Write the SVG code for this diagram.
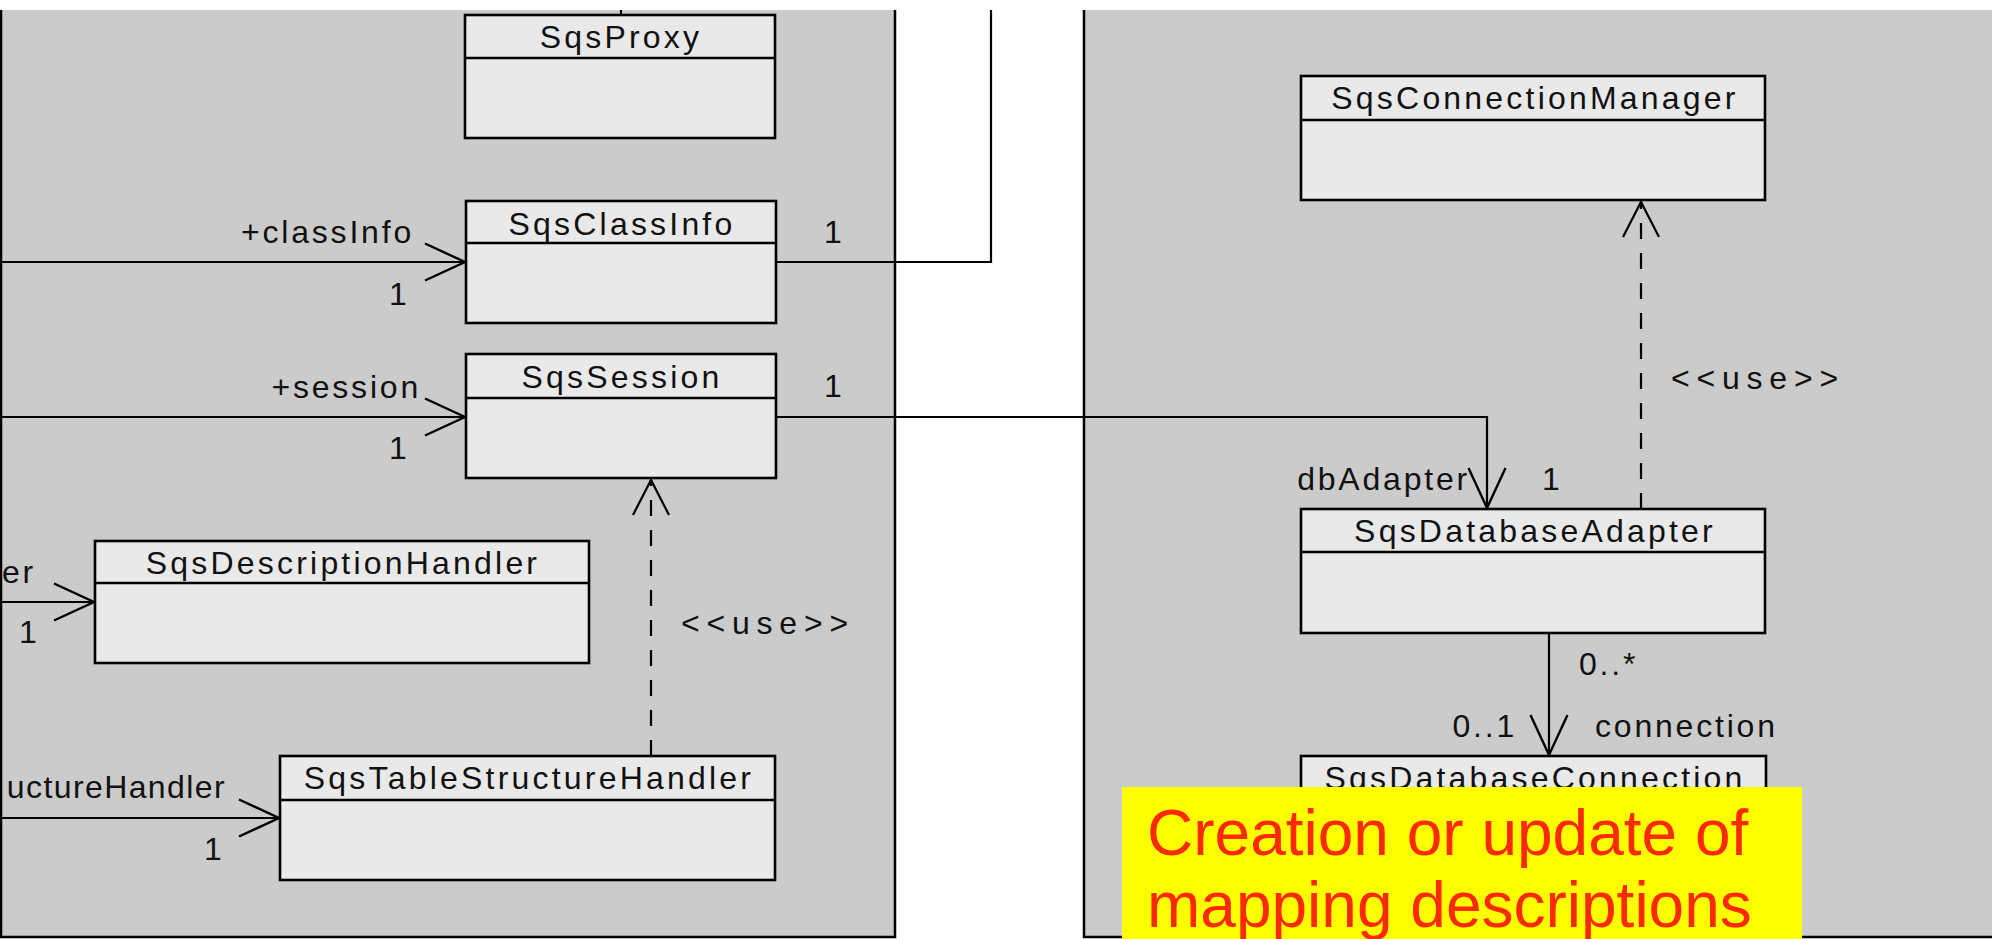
<svg xmlns="http://www.w3.org/2000/svg" width="1992" height="939" viewBox="0 0 1992 939">
  <style>
    .panel { fill: #cbcbcb; }
    .edge { stroke: #000; stroke-width: 2.5; fill: none; }
    .box { fill: #e9e9e9; stroke: #000; stroke-width: 2.6; }
    .sep { stroke: #000; stroke-width: 2.6; }
    .name { font-family: "Liberation Sans", Arial, sans-serif; font-size: 32px; letter-spacing: 3.2px; fill: #111; text-anchor: middle; }
    .lbl { font-family: "Liberation Sans", Arial, sans-serif; font-size: 32px; letter-spacing: 2.8px; fill: #111; }
    .tight { letter-spacing: 1.4px; }
    .stereo { font-family: "Liberation Sans", Arial, sans-serif; font-size: 32px; letter-spacing: 6.8px; fill: #111; }
    .assoc { stroke: #000; stroke-width: 2.2; fill: none; }
    .dep { stroke: #000; stroke-width: 2.2; fill: none; stroke-dasharray: 16 14; }
    .note { fill: #ffff00; }
    .notetext { font-family: "Liberation Sans", Arial, sans-serif; font-size: 64px; fill: #ff2a00; }
  </style>
  <defs>
    <marker id="open" markerUnits="userSpaceOnUse" viewBox="-45 -25 50 50" markerWidth="50" markerHeight="50" refX="0" refY="0" orient="auto" overflow="visible">
      <path d="M-40,-18.5 L0,0 L-40,18.5" fill="none" stroke="#000" stroke-width="2.4" stroke-dasharray="none"/>
    </marker>
    <marker id="depArrow" markerUnits="userSpaceOnUse" viewBox="-40 -25 45 50" markerWidth="45" markerHeight="50" refX="0" refY="0" orient="auto" overflow="visible">
      <path d="M-35,-18 L0,0 L-35,18" fill="none" stroke="#000" stroke-width="2.2" stroke-dasharray="none"/>
    </marker>
  </defs>

  <rect width="1992" height="939" fill="#ffffff"/>

  <!-- package panels -->
  <g id="panel-left">
    <rect class="panel" x="1" y="10" width="894" height="927"/>
    <path class="edge" d="M1,10 V937 H895 V10"/>
  </g>
  <g id="panel-right">
    <rect class="panel" x="1084" y="10" width="908" height="927"/>
    <path class="edge" d="M1084,10 V937 H1992"/>
  </g>

  <!-- connectors -->
  <g id="connectors">
    <path class="assoc" d="M621,10 V15"/>
    <path class="assoc" d="M776,262 H991 V10"/>
    <path class="assoc" d="M776,417 H1487 V508" marker-end="url(#open)"/>
    <path class="assoc" d="M0,262 H465" marker-end="url(#open)"/>
    <path class="assoc" d="M0,417 H465" marker-end="url(#open)"/>
    <path class="assoc" d="M0,602 H94" marker-end="url(#open)"/>
    <path class="assoc" d="M0,818 H279" marker-end="url(#open)"/>
    <path class="assoc" d="M1549,633 V755" marker-end="url(#open)"/>
    <path class="dep" d="M651,756 V480" marker-end="url(#depArrow)"/>
    <path class="dep" d="M1641,509 V202" marker-end="url(#depArrow)"/>

    <text class="lbl" x="414" y="243" text-anchor="end">+classInfo</text>
    <text class="lbl" x="389" y="305">1</text>
    <text class="lbl" x="824" y="243">1</text>
    <text class="lbl" x="421" y="398" text-anchor="end">+session</text>
    <text class="lbl" x="389" y="459">1</text>
    <text class="lbl" x="824" y="397">1</text>
    <text class="lbl" x="36" y="583" text-anchor="end">er</text>
    <text class="lbl" x="19" y="643">1</text>
    <text class="lbl tight" x="226" y="798" text-anchor="end">uctureHandler</text>
    <text class="lbl" x="204" y="860">1</text>
    <text class="stereo" x="681" y="634">&lt;&lt;use&gt;&gt;</text>
    <text class="stereo" x="1671" y="389">&lt;&lt;use&gt;&gt;</text>
    <text class="lbl" x="1470" y="490" text-anchor="end">dbAdapter</text>
    <text class="lbl" x="1542" y="490">1</text>
    <text class="lbl" x="1579" y="675">0..*</text>
    <text class="lbl" x="1517" y="737" text-anchor="end">0..1</text>
    <text class="lbl" x="1595" y="737">connection</text>
  </g>

  <!-- classes -->
  <g id="SqsProxy">
    <rect class="box" x="465" y="15" width="310" height="123"/>
    <line class="sep" x1="465" y1="58" x2="775" y2="58"/>
    <text class="name" x="621" y="48">SqsProxy</text>
  </g>
  <g id="SqsClassInfo">
    <rect class="box" x="466" y="201" width="310" height="122"/>
    <line class="sep" x1="466" y1="243" x2="776" y2="243"/>
    <text class="name" x="622" y="235">SqsClassInfo</text>
  </g>
  <g id="SqsSession">
    <rect class="box" x="466" y="354" width="310" height="124"/>
    <line class="sep" x1="466" y1="398" x2="776" y2="398"/>
    <text class="name" x="622" y="388">SqsSession</text>
  </g>
  <g id="SqsDescriptionHandler">
    <rect class="box" x="95" y="541" width="494" height="122"/>
    <line class="sep" x1="95" y1="583" x2="589" y2="583"/>
    <text class="name" x="343" y="574">SqsDescriptionHandler</text>
  </g>
  <g id="SqsTableStructureHandler">
    <rect class="box" x="280" y="756" width="495" height="124"/>
    <line class="sep" x1="280" y1="800" x2="775" y2="800"/>
    <text class="name" x="529" y="789">SqsTableStructureHandler</text>
  </g>
  <g id="SqsConnectionManager">
    <rect class="box" x="1301" y="76" width="464" height="124"/>
    <line class="sep" x1="1301" y1="120" x2="1765" y2="120"/>
    <text class="name" x="1535" y="109">SqsConnectionManager</text>
  </g>
  <g id="SqsDatabaseAdapter">
    <rect class="box" x="1301" y="509" width="464" height="124"/>
    <line class="sep" x1="1301" y1="552" x2="1765" y2="552"/>
    <text class="name" x="1535" y="542">SqsDatabaseAdapter</text>
  </g>
  <g id="SqsDatabaseConnection">
    <rect class="box" x="1301" y="756" width="465" height="124"/>
    <line class="sep" x1="1301" y1="799" x2="1766" y2="799"/>
    <text class="name" x="1535" y="789">SqsDatabaseConnection</text>
  </g>

  <!-- callout -->
  <g id="callout">
    <rect class="note" x="1122" y="787" width="680" height="152"/>
    <text class="notetext" x="1147" y="855">Creation or update of</text>
    <text class="notetext" x="1147" y="927">mapping descriptions</text>
  </g>
</svg>
